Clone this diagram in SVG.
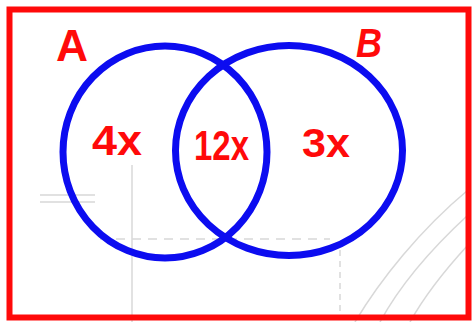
<svg xmlns="http://www.w3.org/2000/svg" width="472" height="322" viewBox="0 0 472 322">
<style>
.set{fill:none;stroke:#0c0cf0;stroke-width:7}
.lbl{fill:#ff0a0a;font-family:"Liberation Sans",Arial,sans-serif;font-weight:bold}
.bg{fill:none;stroke:#d8d8d8;stroke-width:1.5}
</style>
<rect width="472" height="322" fill="#ffffff"/>
<g id="background">
<path class="bg" d="M100 239 H330" stroke-dasharray="9 7"/>
<path class="bg" d="M132 165 V322"/>
<path class="bg" d="M340 250 V320" stroke-dasharray="6 5"/>
<path class="bg" d="M355 322 C380 280 420 230 468 190"/>
<path class="bg" d="M380 322 C400 285 430 250 468 215"/>
<path class="bg" d="M410 322 C425 295 445 270 468 245"/>
<path class="bg" d="M40 195 H95 M40 202 H95"/>
</g>
<g id="universe">
<rect x="9.5" y="9.5" width="459" height="308" fill="none" stroke="#ff0a0a" stroke-width="6"/>
</g>
<g id="setA">
<ellipse class="set" cx="165" cy="152" rx="102" ry="106"/>
<text class="lbl" x="56" y="61" font-size="44" textLength="32" lengthAdjust="spacingAndGlyphs">A</text>
</g>
<g id="setB">
<ellipse class="set" cx="289" cy="150.5" rx="113.5" ry="105"/>
<text class="lbl" x="356" y="57" font-size="40" font-style="italic" textLength="26" lengthAdjust="spacingAndGlyphs">B</text>
</g>
<g id="onlyA">
<text class="lbl" x="92" y="155" font-size="42" textLength="50" lengthAdjust="spacingAndGlyphs">4x</text>
</g>
<g id="both">
<text class="lbl" x="194" y="160" font-size="42" textLength="55" lengthAdjust="spacingAndGlyphs">12x</text>
</g>
<g id="onlyB">
<text class="lbl" x="302" y="157" font-size="40" textLength="48" lengthAdjust="spacingAndGlyphs">3x</text>
</g>
</svg>
